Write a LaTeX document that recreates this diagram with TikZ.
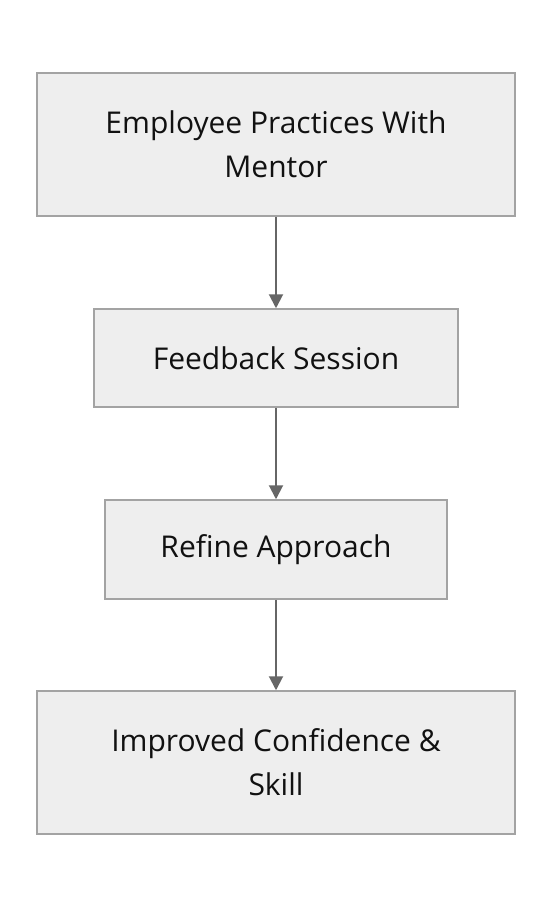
\documentclass[tikz,border=0pt]{standalone}
\usepackage{fontspec}
\setmainfont{Open Sans}
\usetikzlibrary{arrows.meta}
\definecolor{boxfill}{HTML}{EEEEEE}
\definecolor{boxline}{HTML}{A3A3A3}
\definecolor{arrowc}{HTML}{666666}
\definecolor{textc}{HTML}{111111}
\tikzset{
  stepbox/.style={draw=boxline, fill=boxfill, line width=1.5pt, align=center, text=textc, font=\fontsize{30}{44}\selectfont, inner sep=0pt},
  flow/.style={draw=arrowc, line width=2pt, -{Triangle[width=14pt,length=14pt]}}
}
\begin{document}
\begin{tikzpicture}[x=1pt,y=-1pt]
\useasboundingbox (0,0) rectangle (552,908);
\node[stepbox, minimum width=478pt, minimum height=143pt] (a) at (276,144.5) {Employee Practices With\\Mentor};
\node[stepbox, minimum width=364pt, minimum height=98pt] (b) at (276,358) {Feedback Session};
\node[stepbox, minimum width=342pt, minimum height=99pt] (c) at (276,549.5) {Refine Approach};
\node[stepbox, minimum width=478pt, minimum height=143pt] (d) at (276,762.5) {Improved Confidence \&\\Skill};
\draw[flow] (a) -- (b);
\draw[flow] (b) -- (c);
\draw[flow] (c) -- (d);
\end{tikzpicture}
\end{document}
